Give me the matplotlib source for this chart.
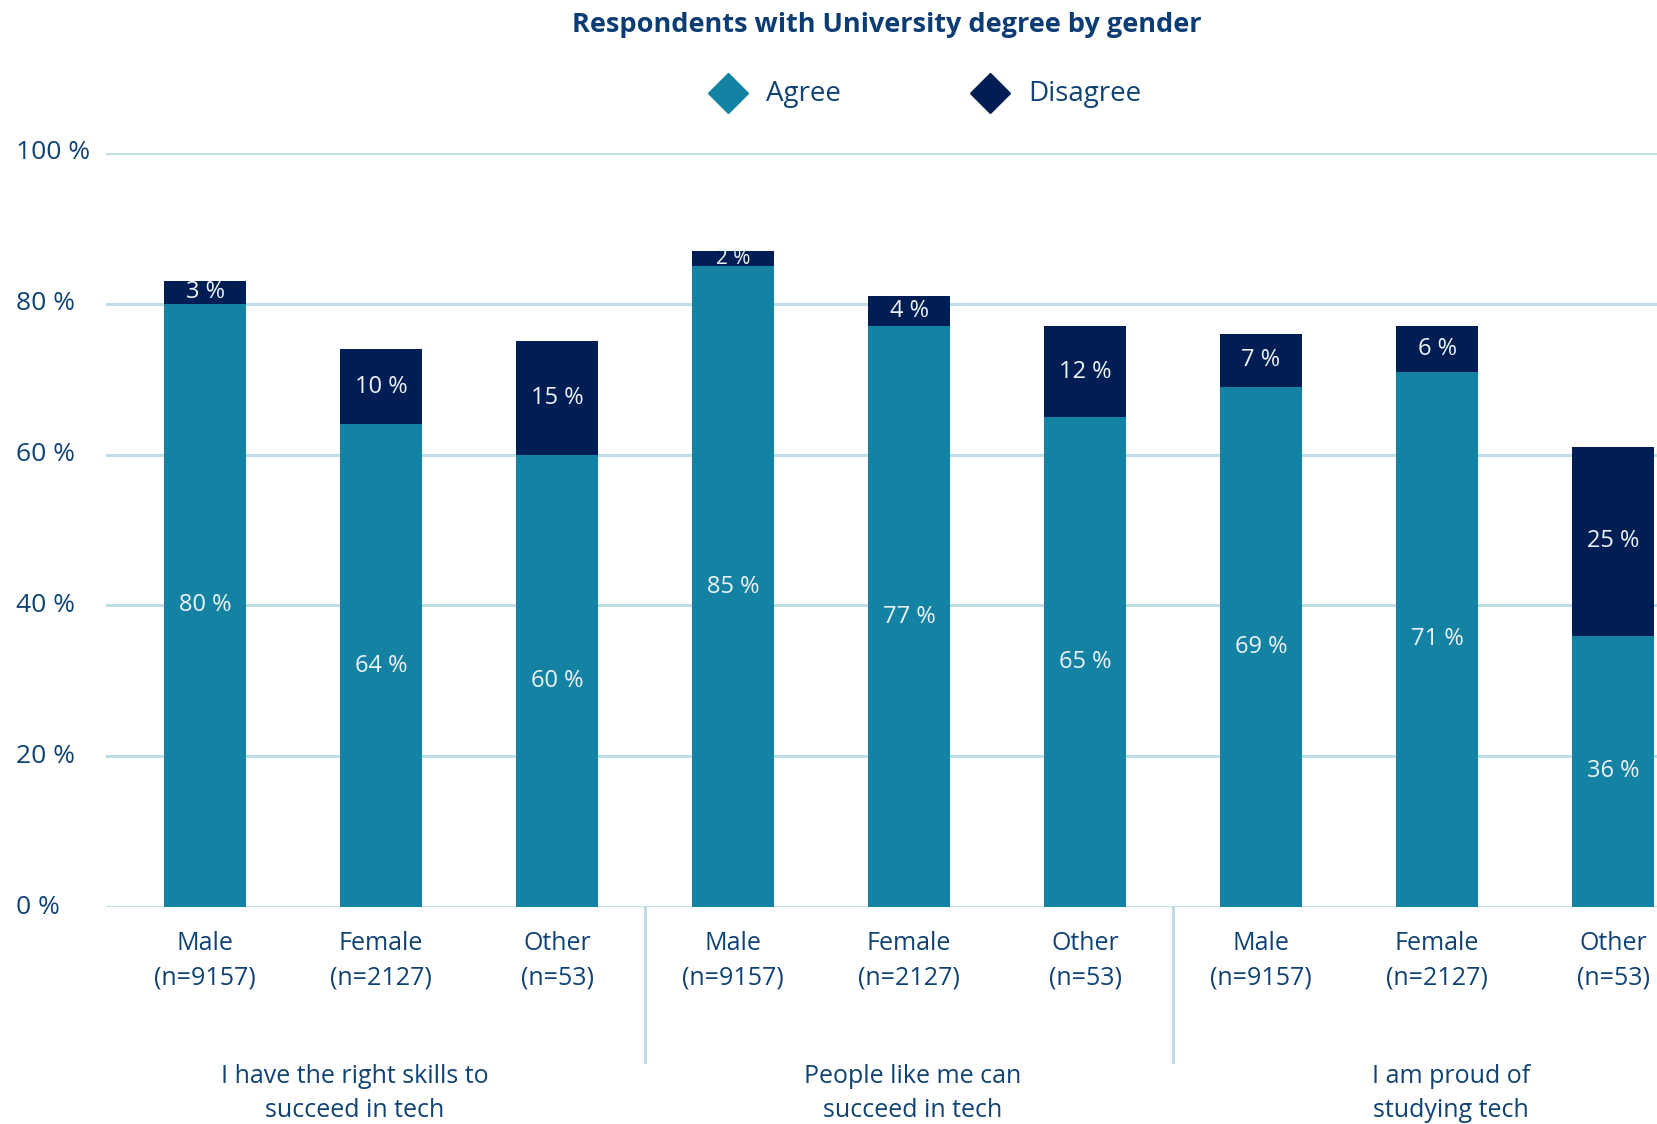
import matplotlib
matplotlib.use("Agg")
import matplotlib.pyplot as plt
from matplotlib.transforms import blended_transform_factory
from matplotlib.lines import Line2D

plt.rcParams["font.family"] = ["Open Sans", "DejaVu Sans"]

# data
statements = ["I have the right skills to\nsucceed in tech",
              "People like me can\nsucceed in tech",
              "I am proud of\nstudying tech"]
genders = ["Male\n(n=9157)", "Female\n(n=2127)", "Other\n(n=53)"]
agree = [80, 64, 60, 85, 77, 65, 69, 71, 36]
disagree = [3, 10, 15, 2, 4, 12, 7, 6, 25]
yticks = [0, 20, 40, 60, 80, 100]

AGREE = "#1482a3"
DISAGREE = "#001e54"
GRID = "#bfdde6"
TEXT = "#0f4275"

fig = plt.figure(figsize=(16.57, 11.24), dpi=100)
ax = fig.add_axes([0.064, 0.193, 0.936, 0.671])

x = list(range(len(agree)))
w = 0.47
ax.bar(x, agree, width=w, color=AGREE, zorder=3)
ax.bar(x, disagree, width=w, bottom=agree, color=DISAGREE, zorder=3)

for xi, a, d in zip(x, agree, disagree):
    ax.text(xi, a / 2, f"{a} %", ha="center", va="center",
            color="#eef4f8", fontsize=17, zorder=4)
    # thin segments get a slightly smaller label
    fs = 15 if d < 3 else 17
    ax.text(xi, a + d / 2, f"{d} %", ha="center", va="center",
            color="#eef4f8", fontsize=fs, zorder=4)

ax.set_xlim(-0.5625, 8.25)
ax.set_ylim(0, 100)
for s in ax.spines.values():
    s.set_visible(False)
ax.set_xticks([])
ax.set_yticks([])
for yv in yticks:
    ax.axhline(yv, color=GRID, lw=2.2, zorder=1)

# y labels, left aligned near the figure edge
ytr = blended_transform_factory(fig.transFigure, ax.transData)
for yv in yticks:
    ax.text(0.0097, yv, f"{yv} %", transform=ytr, ha="left", va="center",
            color=TEXT, fontsize=19)

# category labels under each bar
xtr = ax.get_xaxis_transform()
for i, xi in enumerate(x):
    ax.text(xi, -0.0716, genders[i % 3], transform=xtr, ha="center",
            va="center", color=TEXT, fontsize=18, linespacing=1.5,
            clip_on=False)

# separators between statement groups
for sx in [2.5, 5.5]:
    ax.plot([sx, sx], [0, -0.206], transform=xtr, color=GRID, lw=2.2,
            clip_on=False)

group_x = [0.85, 4.02, 7.08]
for gx, label in zip(group_x, statements):
    ax.text(gx, -0.247, label, transform=xtr, ha="center", va="center",
            color=TEXT, fontsize=18, linespacing=1.45, clip_on=False)

fig.text(0.535, 0.978, "Respondents with University degree by gender",
         ha="center", va="center", color="#0b3c73", fontsize=19.5,
         fontweight="bold")

# legend built from diamond markers
fig.add_artist(Line2D([0.4395], [0.917], marker="D", markersize=20,
                      color=AGREE, linestyle="none", transform=fig.transFigure))
fig.text(0.4625, 0.9165, "Agree", ha="left", va="center", color=TEXT,
         fontsize=20)
fig.add_artist(Line2D([0.5975], [0.917], marker="D", markersize=20,
                      color=DISAGREE, linestyle="none",
                      transform=fig.transFigure))
fig.text(0.6205, 0.9165, "Disagree", ha="left", va="center", color=TEXT,
         fontsize=20)

fig.savefig("out.png", dpi=100)
